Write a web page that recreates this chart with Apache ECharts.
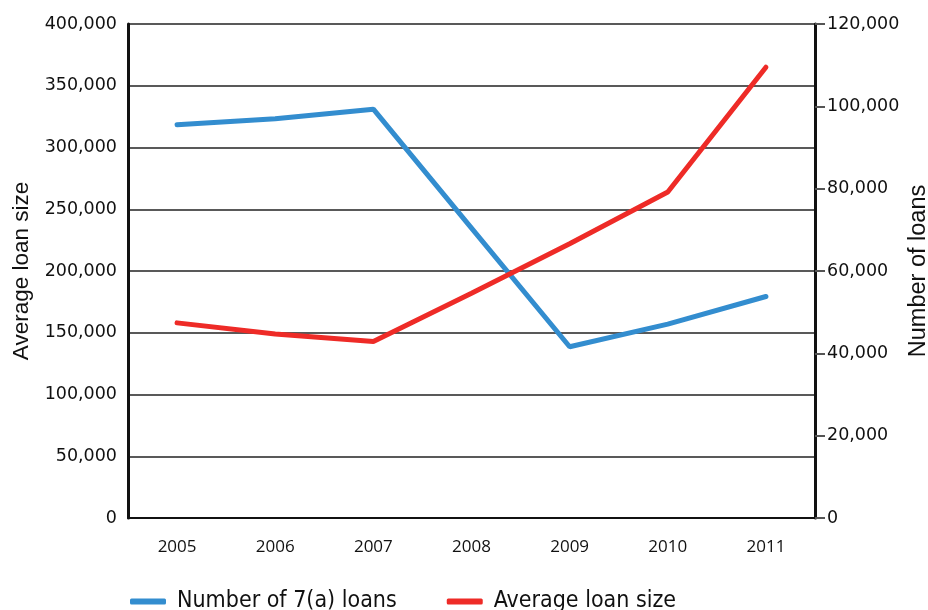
<!doctype html>
<html>
<head>
    <title>7(a) loans</title>
    <script src="https://cdn.jsdelivr.net/npm/echarts@6/dist/echarts.min.js"></script>
</head>
<style>
    html, body { margin: 0; padding: 0; background: #fff; }
    #main { width: 928px; height: 610px; }
</style>
<body>
<div id="main"></div>
<script>
  var years = ['2005', '2006', '2007', '2008', '2009', '2010', '2011'];
  var loanCount = [95500, 97000, 99300, 70400, 41600, 47100, 53800];
  var avgLoanSize = [158000, 149000, 143000, 182000, 222000, 264000, 365000];

  var chart = echarts.init(document.getElementById('main'));

  var numFmt = function (v) {
    return v.toLocaleString('en-US');
  };

  chart.setOption({
    animation: false,
    backgroundColor: '#fff',
    grid: { left: 128, right: 113, top: 24, bottom: 92, outerBoundsMode: 'none', containLabel: false },
    legend: {
      left: 125,
      top: 576,
      itemWidth: 36,
      itemHeight: 6,
      itemGap: 50,
      icon: 'roundRect',
      textStyle: {
        fontFamily: '"Liberation Sans Narrow", "DejaVu Sans Condensed", sans-serif',
        fontSize: 23,
        color: '#111',
        padding: [0, 0, 0, 6]
      },
      data: ['Number of 7(a) loans', 'Average loan size']
    },
    xAxis: {
      type: 'category',
      data: years,
      axisLine: { lineStyle: { color: '#111', width: 2 } },
      axisTick: { length: 9, lineStyle: { color: '#444', width: 1.5 } },
      axisLabel: {
        margin: 15,
        fontFamily: '"Open Sans", sans-serif',
        fontSize: 17,
        color: '#111'
      }
    },
    yAxis: [
      {
        type: 'value',
        min: 0,
        max: 400000,
        interval: 50000,
        name: 'Average loan size',
        nameLocation: 'middle',
        nameGap: 87,
        nameMoveOverlap: false,
        nameTextStyle: { fontFamily: '"Liberation Sans", sans-serif', fontSize: 22.5, color: '#111' },
        axisLine: { show: true, lineStyle: { color: '#111', width: 3 } },
        axisTick: { show: false },
        axisLabel: {
          margin: 11,
          fontFamily: '"DejaVu Sans", sans-serif',
          fontSize: 17.5,
          color: '#111',
          formatter: numFmt
        },
        splitLine: { lineStyle: { color: '#222', width: 1.5 } }
      },
      {
        type: 'value',
        min: 0,
        max: 120000,
        interval: 20000,
        name: 'Number of loans',
        nameLocation: 'middle',
        nameGap: 83,
        nameMoveOverlap: false,
        nameTextStyle: { fontFamily: '"Liberation Sans", sans-serif', fontSize: 23.5, color: '#111' },
        axisLine: { show: true, lineStyle: { color: '#111', width: 3 } },
        axisTick: { show: true, length: 10, lineStyle: { color: '#555', width: 2 } },
        axisLabel: {
          margin: 12,
          fontFamily: '"DejaVu Sans", sans-serif',
          fontSize: 17.5,
          color: '#111',
          formatter: numFmt
        },
        splitLine: { show: false }
      }
    ],
    series: [
      {
        name: 'Number of 7(a) loans',
        type: 'line',
        yAxisIndex: 1,
        data: loanCount,
        showSymbol: false,
        color: '#338dcf',
        lineStyle: { width: 5, cap: 'round' }
      },
      {
        name: 'Average loan size',
        type: 'line',
        yAxisIndex: 0,
        data: avgLoanSize,
        showSymbol: false,
        color: '#ee2b27',
        lineStyle: { width: 5, cap: 'round' }
      }
    ]
  });
</script>
</body>
</html>
